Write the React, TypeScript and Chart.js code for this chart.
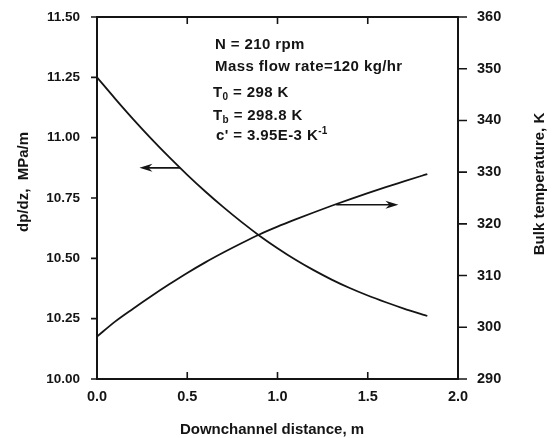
import React, { useEffect, useRef } from "react";
import { Chart, registerables } from "chart.js";

Chart.register(...registerables);

// ---- data ----
const distance = [0, 0.1, 0.2, 0.3, 0.4, 0.5, 0.6, 0.7, 0.8, 0.9, 1.0, 1.1, 1.2, 1.3, 1.4, 1.5, 1.6, 1.7, 1.8, 1.83];
const pressureGradient = [11.25, 11.162, 11.077, 10.996, 10.919, 10.846, 10.777, 10.712, 10.651, 10.594, 10.542, 10.494, 10.451, 10.412, 10.377, 10.346, 10.318, 10.292, 10.268, 10.261];
const bulkTemperature = [298.2, 301.1, 303.6, 306.0, 308.3, 310.5, 312.55, 314.45, 316.25, 317.95, 319.45, 320.85, 322.2, 323.5, 324.75, 325.95, 327.1, 328.2, 329.3, 329.63];

// arrows: [fromX, toX, level] (level in the axis the arrow points to)
const pressureArrow = [0.46, 0.235, 10.875];
const temperatureArrow = [1.325, 1.67, 323.7];

const annotationLines = ["N = 210 rpm", "Mass flow rate=120 kg/hr"];
const xTitle = "Downchannel distance, m";
const yTitle = "dp/dz,  MPa/m";
const y1Title = "Bulk temperature, K";

const INK = "#141414";
const FONT = "'Liberation Sans', Arial, Helvetica, sans-serif";

function drawArrow(ctx: CanvasRenderingContext2D, x0: number, y0: number, x1: number, y1: number) {
  const dir = Math.sign(x1 - x0);
  ctx.beginPath();
  ctx.moveTo(x0, y0);
  ctx.lineTo(x1 - dir * 6, y1);
  ctx.stroke();
  ctx.beginPath();
  ctx.moveTo(x1, y1);
  ctx.lineTo(x1 - dir * 13, y1 - 4);
  ctx.lineTo(x1 - dir * 9, y1);
  ctx.lineTo(x1 - dir * 13, y1 + 4);
  ctx.closePath();
  ctx.fill();
}

const decorPlugin = {
  id: "decor",
  afterDraw(chart: any) {
    const { ctx, chartArea: a, scales } = chart;
    const sx = scales.x, sy = scales.y, sy1 = scales.y1;
    ctx.save();
    ctx.strokeStyle = INK;
    ctx.fillStyle = INK;

    // frame
    ctx.lineWidth = 2;
    ctx.strokeRect(a.left, a.top, a.right - a.left, a.bottom - a.top);

    // tick marks
    ctx.lineWidth = 1.6;
    ctx.beginPath();
    for (const t of sy.ticks) {
      const py = sy.getPixelForValue(t.value);
      ctx.moveTo(a.left - 6, py);
      ctx.lineTo(a.left, py);
    }
    for (const t of sy1.ticks) {
      const py = sy1.getPixelForValue(t.value);
      ctx.moveTo(a.right, py);
      ctx.lineTo(a.right + 9, py);
    }
    for (const t of sx.ticks) {
      if (t.value <= sx.min || t.value >= sx.max) continue;
      const px = sx.getPixelForValue(t.value);
      ctx.moveTo(px, a.bottom);
      ctx.lineTo(px, a.bottom - 7);
      ctx.moveTo(px, a.top);
      ctx.lineTo(px, a.top + 7);
    }
    ctx.stroke();

    // arrows
    ctx.lineWidth = 1.6;
    {
      const py = sy.getPixelForValue(pressureArrow[2]);
      drawArrow(ctx, sx.getPixelForValue(pressureArrow[0]), py, sx.getPixelForValue(pressureArrow[1]), py);
    }
    {
      const py = sy1.getPixelForValue(temperatureArrow[2]);
      drawArrow(ctx, sx.getPixelForValue(temperatureArrow[0]), py, sx.getPixelForValue(temperatureArrow[1]), py);
    }

    // annotation text
    ctx.textBaseline = "middle";
    ctx.textAlign = "left";
    const big = `bold 15px ${FONT}`;
    const small = `bold 10px ${FONT}`;
    (ctx as any).letterSpacing = "0.4px";
    ctx.font = big;
    ctx.fillText(annotationLines[0], 215, 45);
    ctx.fillText(annotationLines[1], 215, 67);

    const mixed = (parts: [string, string, number][], x: number, y: number) => {
      let cx = x;
      for (const [txt, font, dy] of parts) {
        ctx.font = font;
        ctx.fillText(txt, cx, y + dy);
        cx += ctx.measureText(txt).width;
      }
    };
    mixed([["T", big, 0], ["0", small, 4], [" = 298 K", big, 0]], 213, 93);
    mixed([["T", big, 0], ["b", small, 4], [" = 298.8 K", big, 0]], 213, 116);
    mixed([["c' = 3.95E-3 K", big, 0], ["-1", small, -5]], 216, 136);
    (ctx as any).letterSpacing = "0px";

    // axis titles
    ctx.font = `bold 15px ${FONT}`;
    ctx.textAlign = "center";
    ctx.fillText(xTitle, 272, 430);

    ctx.save();
    ctx.translate(24, 182);
    ctx.rotate(-Math.PI / 2);
    ctx.fillText(yTitle, 0, 0);
    ctx.restore();

    ctx.save();
    ctx.translate(540, 184);
    ctx.rotate(-Math.PI / 2);
    ctx.fillText(y1Title, 0, 0);
    ctx.restore();

    ctx.restore();
  },
};

const fixVertical = (w: number) => (s: any) => {
  s.width = w;
  s.paddingTop = 0;
  s.paddingBottom = 0;
};

export default function App() {
  const canvasRef = useRef<HTMLCanvasElement | null>(null);

  useEffect(() => {
    if (!canvasRef.current) return;
    const chart = new Chart(canvasRef.current, {
      type: "line",
      data: {
        datasets: [
          {
            label: "dp/dz",
            data: distance.map((d, i) => ({ x: d, y: pressureGradient[i] })),
            yAxisID: "y",
            borderColor: INK,
            borderWidth: 1.8,
            pointRadius: 0,
            cubicInterpolationMode: "monotone",
            fill: false,
          },
          {
            label: "Bulk temperature",
            data: distance.map((d, i) => ({ x: d, y: bulkTemperature[i] })),
            yAxisID: "y1",
            borderColor: INK,
            borderWidth: 1.8,
            pointRadius: 0,
            cubicInterpolationMode: "monotone",
            fill: false,
          },
        ],
      },
      options: {
        responsive: false,
        animation: false,
        devicePixelRatio: 1,
        layout: { padding: { top: 17, left: 0, right: 0, bottom: 0 } },
        plugins: { legend: { display: false }, tooltip: { enabled: false } },
        scales: {
          x: {
            type: "linear",
            position: "bottom",
            min: 0,
            max: 2,
            grid: { display: false, drawTicks: false },
            border: { display: false },
            ticks: {
              stepSize: 0.5,
              padding: 9,
              color: INK,
              font: { family: FONT, size: 14.5, weight: "bold" },
              callback: (v: any) => Number(v).toFixed(1),
              maxRotation: 0,
            },
            afterFit: (s: any) => { s.height = 59; s.paddingLeft = 0; s.paddingRight = 0; },
          },
          y: {
            type: "linear",
            position: "left",
            min: 10,
            max: 11.5,
            grid: { display: false, drawTicks: false },
            border: { display: false },
            ticks: {
              stepSize: 0.25,
              padding: 17,
              color: INK,
              font: { family: FONT, size: 13.5, weight: "bold" },
              callback: (v: any) => Number(v).toFixed(2),
            },
            afterFit: fixVertical(97),
          },
          y1: {
            type: "linear",
            position: "right",
            min: 290,
            max: 360,
            grid: { display: false, drawTicks: false },
            border: { display: false },
            ticks: {
              stepSize: 10,
              padding: 19,
              color: INK,
              font: { family: FONT, size: 14.5, weight: "bold" },
              callback: (v: any) => String(v),
            },
            afterFit: fixVertical(95),
          },
        },
      },
      plugins: [decorPlugin],
    });
    return () => chart.destroy();
  }, []);

  return (
    <div style={{ position: "fixed", left: 0, top: 0, width: 553, height: 438, background: "#fff" }}>
      <canvas ref={canvasRef} width={553} height={438} style={{ display: "block" }} />
    </div>
  );
}
